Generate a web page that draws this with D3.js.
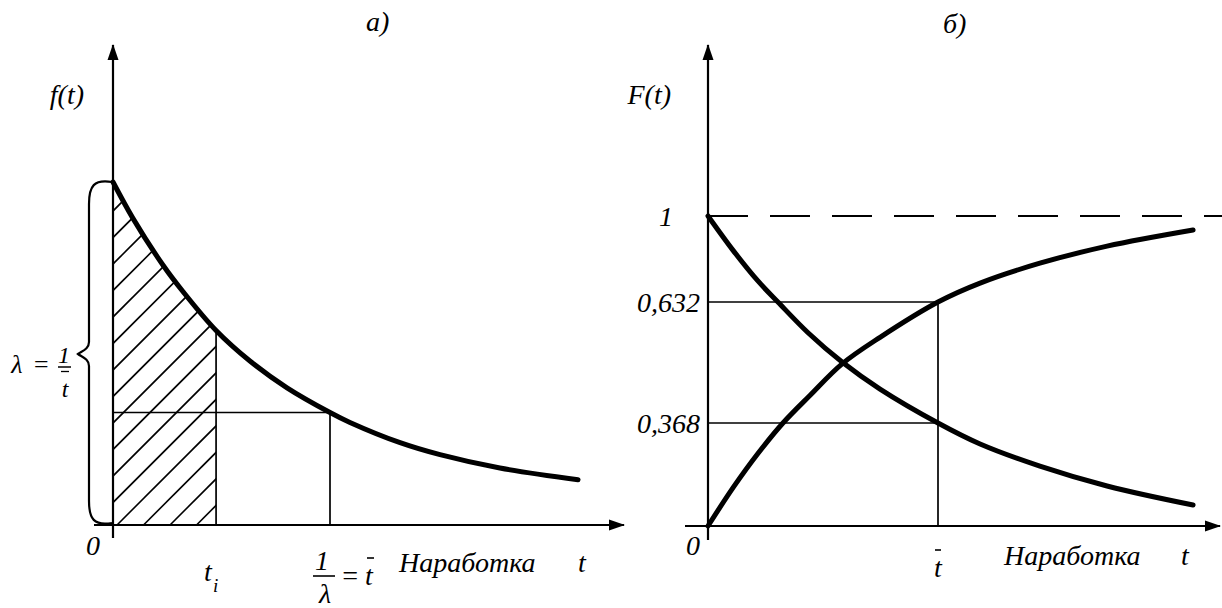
<!DOCTYPE html>
<html>
<head>
<meta charset="utf-8">
<script src="https://cdn.jsdelivr.net/npm/d3@7"></script>
<style>
  html, body { margin: 0; padding: 0; background: #fff; }
  svg { display: block; }
  svg text { font-family: "Liberation Serif", "DejaVu Serif", serif; font-style: italic; }
</style>
</head>
<body>
<svg id="chart" width="1222" height="608"></svg>
<script>
// ---- data ----
// a) density f(t), t in units of mean time to failure, f in units of λ
const densityT = [0, 0.092, 0.230, 0.323, 0.475, 0.631, 0.802, 1.0, 1.092, 1.323, 1.507, 1.783, 2.143];
const densityF = [1.0, 0.894, 0.758, 0.680, 0.567, 0.478, 0.400, 0.328, 0.299, 0.240, 0.205, 0.166, 0.132];
const tSample = 0.475;   // t_i, end of the shaded area
const tMean = 1.0;       // 1/λ = mean time

// б) failure probability F(t) and reliability P(t)
const cdfT = [0, 0.109, 0.217, 0.326, 0.443, 0.583, 0.748, 1.0, 1.183, 1.443, 1.735, 2.109];
const cdfF = [0, 0.137, 0.259, 0.368, 0.428, 0.497, 0.555, 0.632, 0.713, 0.798, 0.871, 0.940];
const relT = [0, 0.109, 0.217, 0.304, 0.435, 0.583, 0.748, 1.0, 1.183, 1.443, 1.735, 2.109];
const relP = [1.0, 0.853, 0.722, 0.632, 0.565, 0.501, 0.442, 0.368, 0.293, 0.214, 0.143, 0.075];
const levelValues = [0.368, 0.632, 1];
const levelLabels = ["0,368", "0,632", "1"];

const svg = d3.select("#chart");
const defs = svg.append("defs");
defs.append("marker")
  .attr("id", "arrow").attr("markerUnits", "userSpaceOnUse")
  .attr("viewBox", "0 0 16 12").attr("refX", 15).attr("refY", 6)
  .attr("markerWidth", 16).attr("markerHeight", 12).attr("orient", "auto")
  .append("path").attr("d", "M0,0.5 L16,6 L0,11.5 Z").attr("fill", "#000");

const AXIS_W = 2.2, GUIDE_W = 1.7, CURVE_W = 5;
const smooth = d3.curveCatmullRom.alpha(0.5);

// ================= a) =================
const xa = d3.scaleLinear().domain([0, 1]).range([113, 330]);
const ya = d3.scaleLinear().domain([0, 1]).range([525, 182]);
const aPts = densityT.map((t, i) => [t, densityF[i]]);

// shaded area under the density up to t_i
const shaded = aPts.filter(d => d[0] <= tSample + 1e-9);
defs.append("clipPath").attr("id", "clipA")
  .append("path")
  .attr("d", d3.area().x(d => xa(d[0])).y0(ya(0)).y1(d => ya(d[1])).curve(smooth)(shaded));
const hatch = svg.append("g").attr("clip-path", "url(#clipA)");
const step = 26.5;
for (let x0 = 117 - step * 16; x0 <= xa(tSample) + 5; x0 += step) {
  hatch.append("line")
    .attr("x1", x0).attr("y1", ya(0)).attr("x2", x0 + 420).attr("y2", ya(0) - 420)
    .attr("stroke", "#000").attr("stroke-width", 1.6);
}

// guide lines
const fAtTi = densityF[densityT.indexOf(tSample)];
const fAtMean = densityF[densityT.indexOf(tMean)];
svg.append("line").attr("x1", xa(tSample)).attr("x2", xa(tSample))
  .attr("y1", ya(0)).attr("y2", ya(fAtTi)).attr("stroke", "#000").attr("stroke-width", GUIDE_W);
svg.append("line").attr("x1", xa(tMean)).attr("x2", xa(tMean))
  .attr("y1", ya(0)).attr("y2", ya(fAtMean)).attr("stroke", "#000").attr("stroke-width", GUIDE_W);
svg.append("line").attr("x1", xa(0)).attr("x2", xa(tMean))
  .attr("y1", ya(fAtMean)).attr("y2", ya(fAtMean)).attr("stroke", "#000").attr("stroke-width", GUIDE_W);

// axes
svg.append("line").attr("x1", xa(0)).attr("x2", xa(0)).attr("y1", ya(0) + 13).attr("y2", 45)
  .attr("stroke", "#000").attr("stroke-width", AXIS_W).attr("marker-end", "url(#arrow)");
svg.append("line").attr("x1", 94).attr("x2", 624).attr("y1", ya(0)).attr("y2", ya(0))
  .attr("stroke", "#000").attr("stroke-width", AXIS_W).attr("marker-end", "url(#arrow)");

// density curve
svg.append("path")
  .attr("d", d3.line().x(d => xa(d[0])).y(d => ya(d[1])).curve(smooth)(aPts))
  .attr("fill", "none").attr("stroke", "#000").attr("stroke-width", CURVE_W)
  .attr("stroke-linecap", "round").attr("stroke-linejoin", "round");

// brace spanning f from 0 to λ
{
  const xr = xa(0) - 1, xb = 89, xt = 78;
  const yTop = ya(1), yBot = ya(0) - 2, yMid = 354;
  const p = d3.path();
  p.moveTo(xr, yTop);
  p.bezierCurveTo(xr - 18, yTop - 3, xb, yTop + 4, xb, yTop + 22);
  p.lineTo(xb, yMid - 12);
  p.bezierCurveTo(xb, yMid - 5, xt + 4, yMid - 3, xt, yMid);
  p.bezierCurveTo(xt + 4, yMid + 3, xb, yMid + 5, xb, yMid + 12);
  p.lineTo(xb, yBot - 22);
  p.bezierCurveTo(xb, yBot - 4, xr - 18, yBot + 3, xr, yBot);
  svg.append("path").attr("d", p.toString()).attr("fill", "none")
    .attr("stroke", "#000").attr("stroke-width", 2.2);
}

// labels a)
const T = (x, y, s, size, anchor) => svg.append("text").attr("x", x).attr("y", y)
  .attr("fill", "#000")
  .attr("font-size", size).attr("text-anchor", anchor || "start").text(s);
const bar = (x1, x2, y, w) => svg.append("line").attr("x1", x1).attr("x2", x2)
  .attr("y1", y).attr("y2", y).attr("stroke", "#000").attr("stroke-width", w || 1.4);

T(366, 31, "а)", 28);
T(84, 104, "f(t)", 28, "end");
T(86, 555, "0", 28);
T(204, 581, "t", 28);
T(213, 592, "i", 19);
T(322, 570, "1", 28, "middle");
bar(313, 335, 576, 1.6);
T(325, 603, "λ", 28, "middle");
T(350, 585, "=", 28, "middle");
T(369, 585, "t", 28, "middle");
bar(367, 374, 558, 1.6);
T(399, 572, "Наработка", 28);
T(578, 572, "t", 28);
// λ = 1/t̄
T(17, 373, "λ", 26, "middle");
T(41, 373, "=", 26, "middle");
T(64, 363, "1", 24, "middle");
bar(58, 71, 367, 1.5);
bar(61, 69, 371.5, 1.3);
T(65, 397, "t", 24, "middle");

// ================= б) =================
const xb2 = d3.scaleLinear().domain([0, 1]).range([708, 938]);
const yb = d3.scaleLinear().domain([0, 0.368, 0.632, 1]).range([526, 423, 302, 216]);

// dashed asymptote at 1
svg.append("line").attr("x1", xb2(0)).attr("x2", 1222).attr("y1", yb(1)).attr("y2", yb(1))
  .attr("stroke", "#000").attr("stroke-width", 2.2).attr("stroke-dasharray", "40,22");

// level guide lines
[0.632, 0.368].forEach(v => {
  svg.append("line").attr("x1", xb2(0)).attr("x2", xb2(tMean)).attr("y1", yb(v)).attr("y2", yb(v))
    .attr("stroke", "#000").attr("stroke-width", GUIDE_W);
});
svg.append("line").attr("x1", xb2(tMean)).attr("x2", xb2(tMean)).attr("y1", yb(0)).attr("y2", yb(0.632))
  .attr("stroke", "#000").attr("stroke-width", GUIDE_W);

// axes
svg.append("line").attr("x1", xb2(0)).attr("x2", xb2(0)).attr("y1", yb(0) + 14).attr("y2", 45)
  .attr("stroke", "#000").attr("stroke-width", AXIS_W).attr("marker-end", "url(#arrow)");
svg.append("line").attr("x1", 685).attr("x2", 1220).attr("y1", yb(0)).attr("y2", yb(0))
  .attr("stroke", "#000").attr("stroke-width", AXIS_W).attr("marker-end", "url(#arrow)");

// curves
const lineB = d3.line().x(d => xb2(d[0])).y(d => yb(d[1])).curve(smooth);
svg.append("path").attr("d", lineB(cdfT.map((t, i) => [t, cdfF[i]])))
  .attr("fill", "none").attr("stroke", "#000").attr("stroke-width", CURVE_W)
  .attr("stroke-linecap", "round").attr("stroke-linejoin", "round");
svg.append("path").attr("d", lineB(relT.map((t, i) => [t, relP[i]])))
  .attr("fill", "none").attr("stroke", "#000").attr("stroke-width", CURVE_W)
  .attr("stroke-linecap", "round").attr("stroke-linejoin", "round");

// labels б): decimal levels right-aligned to the axis, the unit level set further left
T(943, 33, "б)", 28);
T(671, 104, "F(t)", 28, "end");
levelValues.forEach((v, i) => {
  if (v === 1) T(666, yb(v) + 10, levelLabels[i], 28, "middle");
  else T(700, yb(v) + 10, levelLabels[i], 28, "end");
});
T(686, 555, "0", 28);
T(938, 577, "t", 28, "middle");
bar(935, 941, 550, 1.6);
T(1004, 565, "Наработка", 28);
T(1181, 565, "t", 28);
</script>
</body>
</html>
